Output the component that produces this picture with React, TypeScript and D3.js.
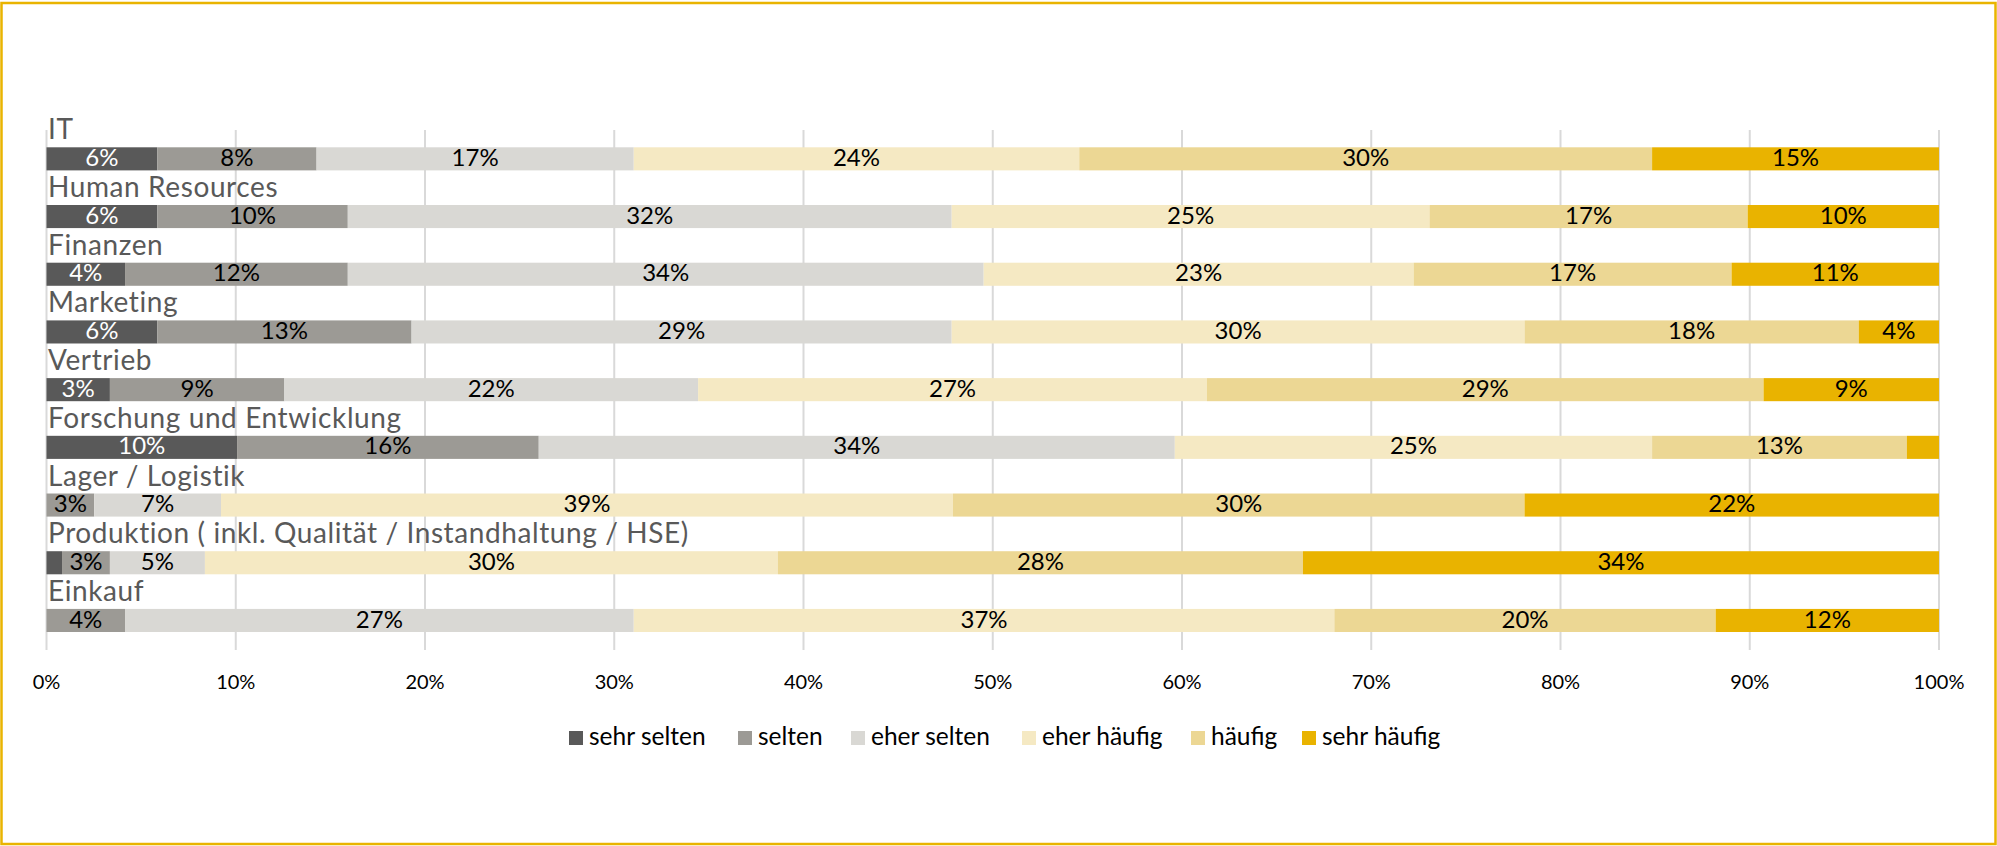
import React from "react";
import * as d3 from "d3";

const categories = [
  "IT",
  "Human Resources",
  "Finanzen",
  "Marketing",
  "Vertrieb",
  "Forschung und Entwicklung",
  "Lager / Logistik",
  "Produktion ( inkl. Qualität / Instandhaltung / HSE)",
  "Einkauf",
];

const seriesNames = ["sehr selten", "selten", "eher selten", "eher häufig", "häufig", "sehr häufig"];
const seriesColors = ["#595959", "#9c9a95", "#d9d8d4", "#f5e9c3", "#ecd794", "#e9b300"];

// values per category (percent), in series order
const sehrSelten = [5.85, 5.85, 4.15, 5.85, 3.35, 10.07, 0, 0.82, 0];
const selten = [8.42, 10.07, 11.77, 13.44, 9.22, 15.94, 2.52, 2.53, 4.15];
const eherSelten = [16.76, 31.91, 33.6, 28.54, 21.86, 33.61, 6.7, 5.02, 26.88];
const eherHaeufig = [23.54, 25.25, 22.72, 30.27, 26.89, 25.22, 38.68, 30.28, 37.02];
const haeufig = [30.27, 16.81, 16.8, 17.66, 29.41, 13.46, 30.2, 27.74, 20.15];
const sehrHaeufig = [15.16, 10.11, 10.96, 4.24, 9.27, 1.7, 21.9, 33.61, 11.8];

const tickValues = [0, 10, 20, 30, 40, 50, 60, 70, 80, 90, 100];

const W = 1997;
const H = 846;
const FONT = "Lato, 'Open Sans', sans-serif";

export default function App() {
  const x = d3.scaleLinear().domain([0, 100]).range([46.5, 1939]);
  const y = d3
    .scaleBand<string>()
    .domain(categories)
    .range([147.3, 632])
    .paddingInner(0.6)
    .paddingOuter(0);

  const table = categories.map((c, i) => ({
    cat: c,
    "sehr selten": sehrSelten[i],
    selten: selten[i],
    "eher selten": eherSelten[i],
    "eher häufig": eherHaeufig[i],
    häufig: haeufig[i],
    "sehr häufig": sehrHaeufig[i],
  }));
  const stack = d3.stack<any>().keys(seriesNames)(table);
  const color = d3.scaleOrdinal<string, string>().domain(seriesNames).range(seriesColors);

  const legendX = [569, 738, 851, 1022, 1191, 1302];

  return (
    <svg
      width={W}
      height={H}
      style={{ position: "absolute", left: 0, top: 0, background: "#fff" }}
      fontFamily={FONT}
    >
      <rect x={0} y={0} width={W} height={H} fill="#fff" />
      {/* frame */}
      <rect x={1.5} y={3} width={W - 3} height={H - 5} fill="none" stroke="#e9b400" strokeWidth={2.5} />

      {/* gridlines */}
      {tickValues.map((t) => (
        <line key={t} x1={x(t)} x2={x(t)} y1={130} y2={650} stroke="#d9d9d9" strokeWidth={2} />
      ))}

      {/* bars */}
      {stack.map((s, si) => (
        <g key={s.key}>
          {s.map((d, i) => {
            const v = d[1] - d[0];
            if (v <= 0) return null;
            const x0 = x(d[0]);
            const x1 = x(d[1]);
            const by = y(categories[i])!;
            return (
              <g key={i}>
                <rect x={x0} y={by} width={x1 - x0} height={y.bandwidth()} fill={color(s.key)} />
                {v >= 2 && (
                  <text
                    x={(x0 + x1) / 2}
                    y={by + y.bandwidth() / 2 + 1}
                    dominantBaseline="middle"
                    textAnchor="middle"
                    fontSize={24}
                    fill={si === 0 ? "#ffffff" : "#000000"}
                  >
                    {d3.format(".0f")(v) + "%"}
                  </text>
                )}
              </g>
            );
          })}
        </g>
      ))}

      {/* category labels */}
      {categories.map((c) => (
        <text key={c} x={48} y={y(c)! - 8} fontSize={28} letterSpacing={0.6} fill="#595959">
          {c}
        </text>
      ))}

      {/* axis tick labels */}
      {tickValues.map((t) => (
        <text key={t} x={x(t)} y={684} textAnchor="middle" dominantBaseline="middle" fontSize={20} fill="#000">
          {t + "%"}
        </text>
      ))}

      {/* legend */}
      {seriesNames.map((s, i) => (
        <g key={s} transform={`translate(${legendX[i]},738)`}>
          <rect x={0} y={-7} width={14} height={14} fill={color(s)} />
          <text x={20} y={1} dominantBaseline="middle" fontSize={24.5} fill="#000">
            {s}
          </text>
        </g>
      ))}
    </svg>
  );
}
